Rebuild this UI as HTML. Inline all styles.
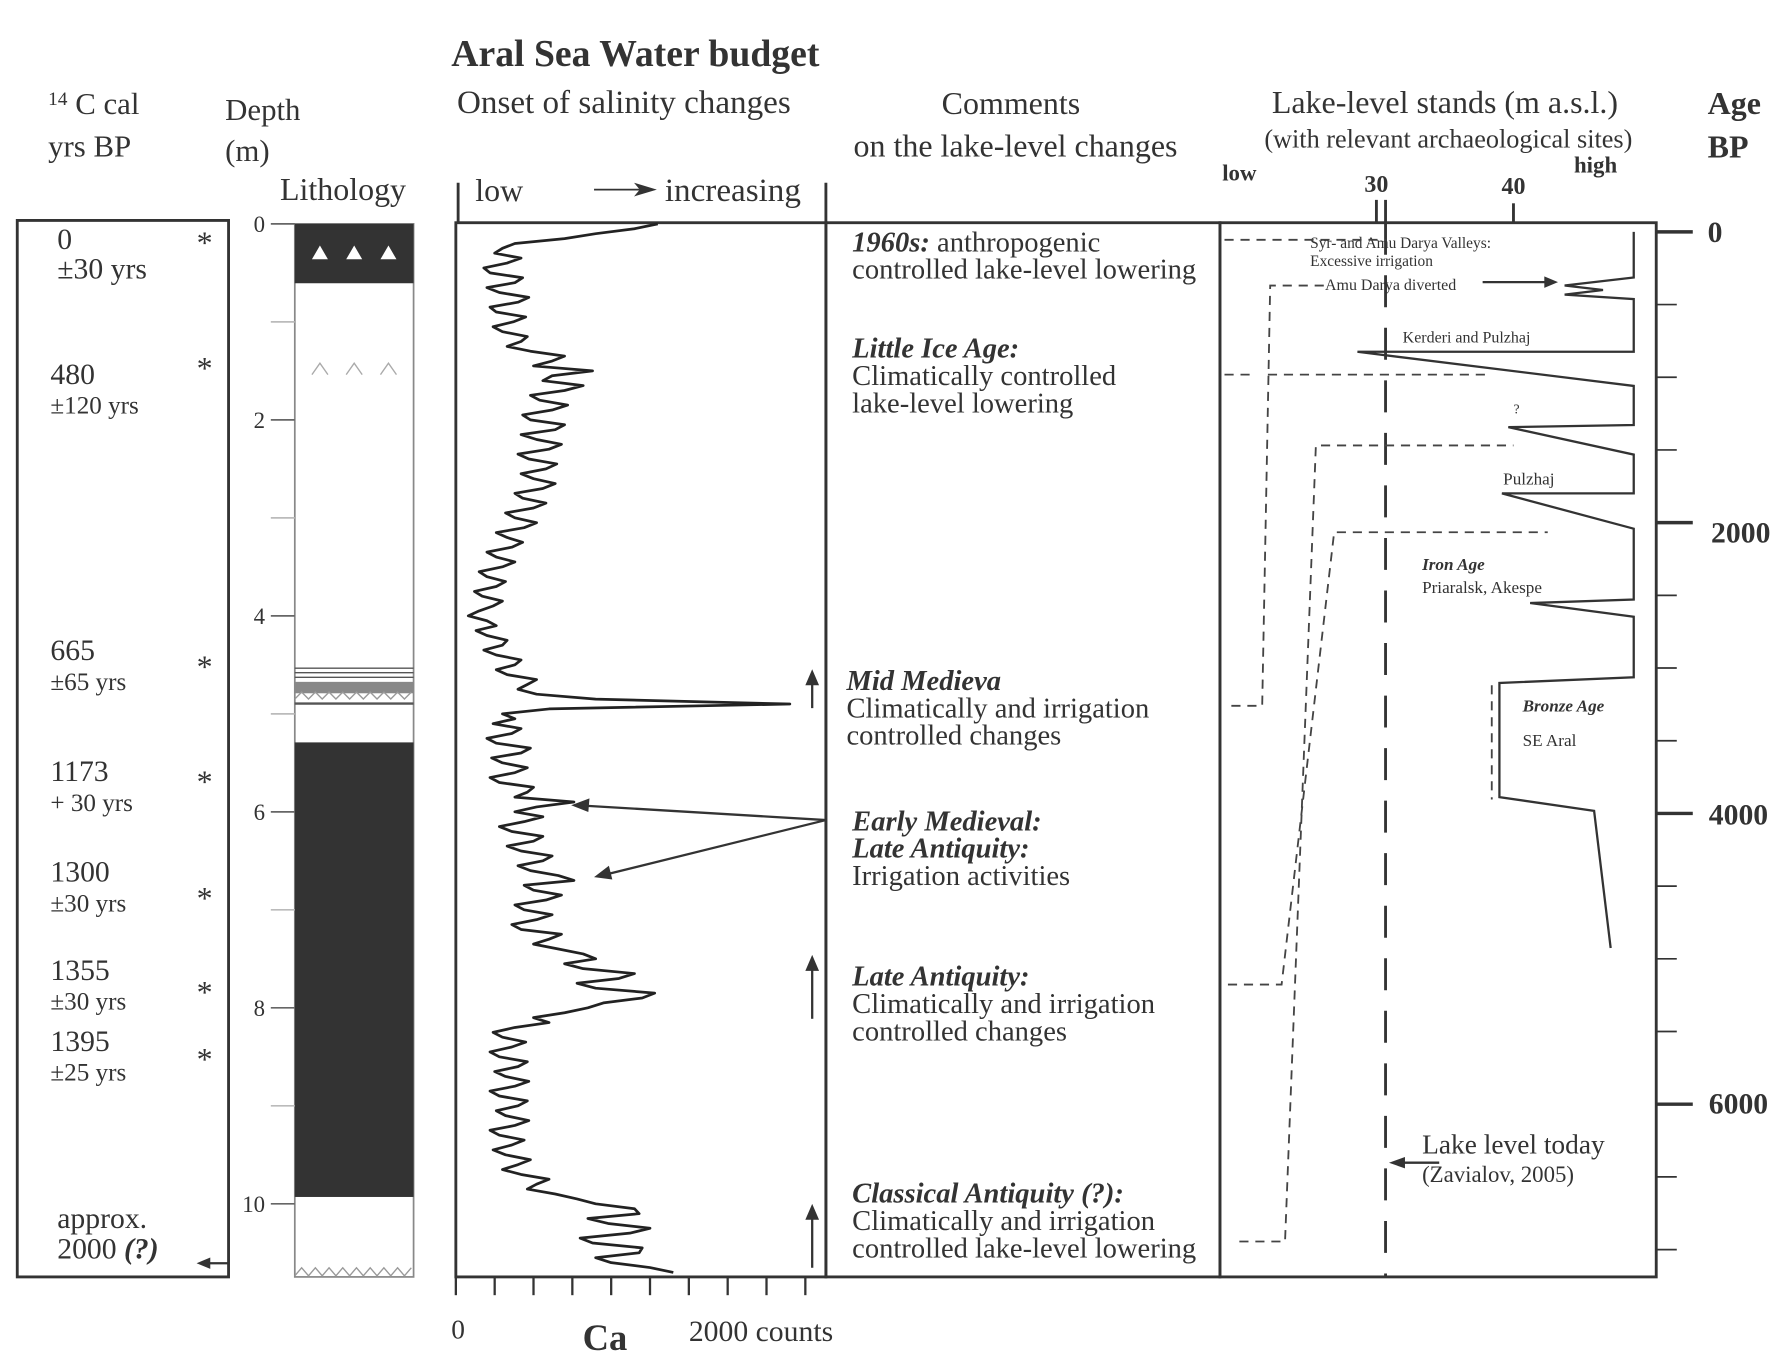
<!DOCTYPE html>
<html><head><meta charset="utf-8"><style>
html,body{margin:0;padding:0;background:#fff;}
svg{display:block;font-family:"Liberation Serif",serif;}
</style></head><body>
<svg id="fig" width="1782" height="1366" viewBox="0 0 1560 1196" xmlns="http://www.w3.org/2000/svg">
<g id="static" fill="#333" stroke="none">
<text x="395" y="58" font-size="33" font-weight="bold">Aral Sea Water budget</text>
<text x="42" y="100" font-size="27"><tspan font-size="17" dy="-8">14</tspan><tspan dy="8"> C cal</tspan></text>
<text x="42" y="137" font-size="27">yrs BP</text>
<text x="197" y="105" font-size="27">Depth</text>
<text x="197" y="141" font-size="27">(m)</text>
<text x="245" y="175" font-size="28">Lithology</text>
<text x="400" y="99" font-size="29">Onset of salinity changes</text>
<text x="416" y="176" font-size="28">low</text>
<text x="582" y="176" font-size="29">increasing</text>
<text x="885" y="100" font-size="28" text-anchor="middle">Comments</text>
<text x="889" y="137" font-size="28" text-anchor="middle">on the lake-level changes</text>
<text x="1265" y="99" font-size="28" text-anchor="middle">Lake-level stands (m a.s.l.)</text>
<text x="1268" y="129" font-size="23" text-anchor="middle">(with relevant archaeological sites)</text>
<text x="1070" y="158" font-size="20" font-weight="bold">low</text>
<text x="1378" y="151" font-size="20" font-weight="bold">high</text>
<text x="1205" y="168" font-size="21" font-weight="bold" text-anchor="middle">30</text>
<text x="1325" y="170" font-size="21" font-weight="bold" text-anchor="middle">40</text>
<text x="1495" y="100" font-size="28" font-weight="bold">Age</text>
<text x="1495" y="138" font-size="28" font-weight="bold">BP</text>
</g>
<g fill="#333" font-size="26">
<text x="50" y="218">0</text><text x="50" y="244">±30 yrs</text>
<text x="44" y="336">480</text><text x="44" y="362" font-size="22">±120 yrs</text>
<text x="44" y="578">665</text><text x="44" y="604" font-size="22">±65 yrs</text>
<text x="44" y="684">1173</text><text x="44" y="710" font-size="22">+ 30 yrs</text>
<text x="44" y="772">1300</text><text x="44" y="798" font-size="22">±30 yrs</text>
<text x="44" y="858">1355</text><text x="44" y="884" font-size="22">±30 yrs</text>
<text x="44" y="920">1395</text><text x="44" y="946" font-size="22">±25 yrs</text>
<text x="50" y="1075">approx.</text><text x="50" y="1102">2000 <tspan font-style="italic" font-weight="bold">(?)</tspan></text>
<text x="172" y="222" font-size="28">*</text><text x="172" y="332" font-size="28">*</text>
<text x="172" y="593" font-size="28">*</text><text x="172" y="694" font-size="28">*</text>
<text x="172" y="796" font-size="28">*</text><text x="172" y="878" font-size="28">*</text>
<text x="172" y="937" font-size="28">*</text>
</g>
<g fill="#333" font-size="25">
<text x="746" y="220"><tspan font-style="italic" font-weight="bold">1960s:</tspan> anthropogenic</text>
<text x="746" y="244">controlled lake-level lowering</text>
<text x="746" y="313" font-style="italic" font-weight="bold">Little Ice Age:</text>
<text x="746" y="337">Climatically controlled</text><text x="746" y="361">lake-level lowering</text>
<text x="741" y="604" font-style="italic" font-weight="bold">Mid Medieva</text>
<text x="741" y="628">Climatically and irrigation</text><text x="741" y="652">controlled changes</text>
<text x="746" y="727" font-style="italic" font-weight="bold">Early Medieval:</text>
<text x="746" y="751" font-style="italic" font-weight="bold">Late Antiquity:</text>
<text x="746" y="775">Irrigation activities</text>
<text x="746" y="863" font-style="italic" font-weight="bold">Late Antiquity:</text>
<text x="746" y="887">Climatically and irrigation</text><text x="746" y="911">controlled changes</text>
<text x="746" y="1053" font-style="italic" font-weight="bold">Classical Antiquity (?):</text>
<text x="746" y="1077">Climatically and irrigation</text><text x="746" y="1101">controlled lake-level lowering</text>
</g>
<g fill="#333" font-size="15">
<text x="1147" y="217" font-size="13.5">Syr- and Amu Darya Valleys:</text>
<text x="1147" y="233" font-size="13.5">Excessive irrigation</text>
<text x="1160" y="254" font-size="14">Amu Darya diverted</text>
<text x="1228" y="300" font-size="14">Kerderi and Pulzhaj</text>
<text x="1325" y="362" font-size="12">?</text>
<text x="1316" y="424">Pulzhaj</text>
<text x="1245" y="499" font-style="italic" font-weight="bold">Iron Age</text>
<text x="1245" y="519">Priaralsk, Akespe</text>
<text x="1333" y="623" font-style="italic" font-weight="bold">Bronze Age</text>
<text x="1333" y="653">SE Aral</text>
<text x="1245" y="1010" font-size="24">Lake level today</text>
<text x="1245" y="1035" font-size="20">(Zavialov, 2005)</text>
</g>
<g fill="#333" font-size="26">
<text x="395" y="1172" font-size="24">0</text>
<text x="510" y="1182" font-size="32" font-weight="bold">Ca</text>
<text x="603" y="1174">2000 counts</text>
</g>
<g fill="#333" font-size="26" font-weight="bold">
<text x="1495" y="212">0</text><text x="1498" y="475">2000</text><text x="1496" y="722">4000</text><text x="1496" y="975">6000</text>
</g>
<g id="frames" fill="none" stroke="#333" stroke-width="2.5">
<rect x="15" y="193" width="185" height="925"/>
<rect x="258" y="196" width="104" height="922" stroke-width="1.5" stroke="#888"/>
<rect x="399" y="195" width="324" height="923"/>
<rect x="723" y="195" width="345" height="923"/>
<rect x="1068" y="195" width="382" height="923"/>
<line x1="401" y1="160" x2="401" y2="195"/><line x1="723" y1="160" x2="723" y2="195"/>
<line x1="1205" y1="175" x2="1205" y2="195"/><line x1="1213" y1="175" x2="1213" y2="195"/><line x1="1325" y1="178" x2="1325" y2="195"/>
<line x1="520" y1="166" x2="560" y2="166" stroke-width="1.5"/>
<path d="M555 160 L575 166 L555 172 L560 166 Z" fill="#333" stroke="none"/>
<line x1="1213" y1="195" x2="1213" y2="1118" stroke-width="2.5" stroke-dasharray="28,18"/>
<path d="M1260 1018 H1222" stroke-width="2"/><path d="M1216 1018 L1230 1013 L1230 1023 Z" fill="#333" stroke="none"/>
<path d="M200 1106 H178" stroke-width="2"/><path d="M172 1106 L184 1101 L184 1111 Z" fill="#333" stroke="none"/>
<path d="M1298 247 H1355" stroke-width="2"/><path d="M1364 247 L1352 242 L1352 252 Z" fill="#333" stroke="none"/>
</g>
<g>
<rect x="258" y="196" width="104" height="52" fill="#333"/>
<g fill="#fff"><path d="M273 227 l7 -12 l7 12z"/><path d="M303 227 l7 -12 l7 12z"/><path d="M333 227 l7 -12 l7 12z"/></g>
<g fill="none" stroke="#aaa" stroke-width="1.2"><path d="M273 328 l7 -10 l7 10"/><path d="M303 328 l7 -10 l7 10"/><path d="M333 328 l7 -10 l7 10"/></g>
<g stroke="#555" stroke-width="1.2"><line x1="258" y1="585" x2="362" y2="585"/><line x1="258" y1="589" x2="362" y2="589"/><line x1="258" y1="593" x2="362" y2="593"/></g>
<rect x="258" y="597" width="104" height="10" fill="#888"/>
<path d="M258 612 l6 -6 l6 6 l6 -6 l6 6 l6 -6 l6 6 l6 -6 l6 6 l6 -6 l6 6 l6 -6 l6 6 l6 -6 l6 6 l6 -6 l6 6 l6 -6" fill="none" stroke="#999" stroke-width="1.2"/>
<line x1="258" y1="616" x2="362" y2="616" stroke="#555" stroke-width="2"/>
<rect x="258" y="650" width="104" height="398" fill="#333"/>
<path d="M258 1117 l6 -7 l6 7 l6 -7 l6 7 l6 -7 l6 7 l6 -7 l6 7 l6 -7 l6 7 l6 -7 l6 7 l6 -7 l6 7 l6 -7 l6 7 l6 -7" fill="none" stroke="#999" stroke-width="1.2"/>
</g>
<g fill="none" stroke="#333" stroke-width="2">
<line x1="711" y1="620" x2="711" y2="592"/><line x1="711" y1="892" x2="711" y2="842"/><line x1="711" y1="1110" x2="711" y2="1060"/>
<path d="M705 600 L711 586 L717 600Z M705 850 L711 836 L717 850Z M705 1068 L711 1054 L717 1068Z" fill="#333" stroke="none"/>
<line x1="723" y1="718" x2="505" y2="705"/><line x1="723" y1="718" x2="525" y2="767"/>
<path d="M500 705 L516 699 L515 711Z M520 768 L533 758 L536 770Z" fill="#333" stroke="none"/>
</g>
<g fill="none" stroke="#444" stroke-width="1.6" stroke-dasharray="8,6">
<path d="M1072 210 H1213"/>
<path d="M1078 618 H1105 L1112 250 H1160"/>
<path d="M1072 328 H1100 M1110 328 H1300"/>
<path d="M1085 1087 H1125 L1152 390 H1325"/>
<path d="M1075 862 H1122 L1168 466 H1355"/>
<path d="M1306 600 V700"/>
</g>
<g id="axes"></g>
<g id="marks"></g>
</svg>
<script>
// Ca counts vs depth (m), sampled every 0.05 m
const caDepths = [0,0.05,0.1,0.15,0.2,0.25,0.3,0.35,0.4,0.45,0.5,0.55,0.6,0.65,0.7,0.75,0.8,0.85,0.9,0.95,1,1.05,1.1,1.15,1.2,1.25,1.3,1.35,1.4,1.45,1.5,1.55,1.6,1.65,1.7,1.75,1.8,1.85,1.9,1.95,2,2.05,2.1,2.15,2.2,2.25,2.3,2.35,2.4,2.45,2.5,2.55,2.6,2.65,2.7,2.75,2.8,2.85,2.9,2.95,3,3.05,3.1,3.15,3.2,3.25,3.3,3.35,3.4,3.45,3.5,3.55,3.6,3.65,3.7,3.75,3.8,3.85,3.9,3.95,4,4.05,4.1,4.15,4.2,4.25,4.3,4.35,4.4,4.45,4.5,4.55,4.6,4.65,4.7,4.75,4.8,4.85,4.9,4.95,5,5.05,5.1,5.15,5.2,5.25,5.3,5.35,5.4,5.45,5.5,5.55,5.6,5.65,5.7,5.75,5.8,5.85,5.9,5.95,6,6.05,6.1,6.15,6.2,6.25,6.3,6.35,6.4,6.45,6.5,6.55,6.6,6.65,6.7,6.75,6.8,6.85,6.9,6.95,7,7.05,7.1,7.15,7.2,7.25,7.3,7.35,7.4,7.45,7.5,7.55,7.6,7.65,7.7,7.75,7.8,7.85,7.9,7.95,8,8.05,8.1,8.15,8.2,8.25,8.3,8.35,8.4,8.45,8.5,8.55,8.6,8.65,8.7,8.75,8.8,8.85,8.9,8.95,9,9.05,9.1,9.15,9.2,9.25,9.3,9.35,9.4,9.45,9.5,9.55,9.6,9.65,9.7,9.75,9.8,9.85,9.9,9.95,10,10.05,10.1,10.15,10.2,10.25,10.3,10.35,10.4,10.45,10.5,10.55,10.6,10.65,10.7];
const caCounts = [1300,1150,900,700,380,300,250,420,330,180,220,430,380,200,280,470,400,220,260,450,370,240,300,460,420,330,480,700,620,500,880,620,560,820,700,480,540,720,620,430,480,700,640,420,520,680,600,400,470,650,580,420,500,640,560,380,430,580,500,320,380,520,440,260,330,430,360,200,260,380,300,150,200,320,260,120,170,300,240,150,80,200,260,130,200,330,300,180,260,420,380,260,330,520,460,400,520,900,2150,600,300,380,240,420,360,200,260,480,420,230,300,460,380,220,280,500,460,380,760,520,380,560,440,280,360,560,500,330,420,620,560,400,480,660,760,440,500,680,580,380,440,620,520,360,420,680,600,500,660,820,900,700,820,1150,1050,780,900,1280,1200,950,850,700,500,600,380,240,300,450,360,220,280,460,400,250,320,470,380,220,280,460,400,260,320,470,380,220,280,440,360,240,320,480,400,300,420,600,520,460,640,780,900,1150,1180,850,980,1250,1120,800,880,1200,1180,900,1000,1250,1400];
const caTicks = [0,250,500,750,1000,1250,1500,1750,2000,2250];
const depthTicks = [0,1,2,3,4,5,6,7,8,9,10];
const depthLabels = ["0","","2","","4","","6","","8","","10"];
// Lake level (m a.s.l.) vs age (yr BP)
const lakeAges = [0,314,369,400,432,463,825,825,1060,1328,1343,1532,1799,1799,2042,2529,2553,2647,3064,3103,3888,3983,4925];
const lakeLevels = [49.4,49.4,44,47,44,49.4,49.4,27.8,49.4,49.4,39.6,49.4,49.4,39.1,49.4,49.4,41.3,49.4,49.4,38.9,38.9,46.3,47.6];
const ageTicks = [0,500,1000,1500,2000,2500,3000,3500,4000,4500,5000,5500,6000,6500,7000];

const NS = "http://www.w3.org/2000/svg";
const xCa = c => 399 + c * 0.136;
const yDepth = d => 196 + d * 85.8;
const xLake = m => 1213 + (m - 30) * 11.2;
const yAge = a => 203 + a * 0.1273;
const axes = document.getElementById('axes'), marks = document.getElementById('marks');
function mk(tag, attrs, parent){const e=document.createElementNS(NS,tag);for(const k in attrs)e.setAttribute(k,attrs[k]);parent.appendChild(e);return e;}

caTicks.forEach(c=>{
  const t=mk('line',{x1:xCa(c),x2:xCa(c),y1:1118,y2:1134,stroke:'#333','stroke-width':2},axes);
  
  
});
depthTicks.forEach((d,i)=>{
  const t=mk('line',{x1:237,x2:258,y1:yDepth(d),y2:yDepth(d),stroke:i%2?'#bbb':'#666','stroke-width':1.5},axes);
  
  
  if(depthLabels[i]){
    const l=mk('text',{x:232,y:yDepth(d)+7,'text-anchor':'end','font-size':20,fill:'#333'},axes);
    l.textContent=depthLabels[i];
    
    
  }
});
ageTicks.forEach(a=>{
  const major=a%2000===0;
  const t=mk('line',{x1:1450,x2:major?1482:1468,y1:yAge(a),y2:yAge(a),stroke:'#333','stroke-width':major?3:1.5},axes);
  
  
});
const caPts = caDepths.map((d,i)=>xCa(caCounts[i]).toFixed(1)+','+yDepth(d).toFixed(1)).join(' ');
const caLine = mk('polyline',{points:caPts,fill:'none',stroke:'#222','stroke-width':2.4,'stroke-linejoin':'round'},marks);


const lkPts = lakeAges.map((a,i)=>xLake(lakeLevels[i]).toFixed(1)+','+yAge(a).toFixed(1)).join(' ');
const lkLine = mk('polyline',{points:lkPts,fill:'none',stroke:'#333','stroke-width':2},marks);


</script>
</body></html>
